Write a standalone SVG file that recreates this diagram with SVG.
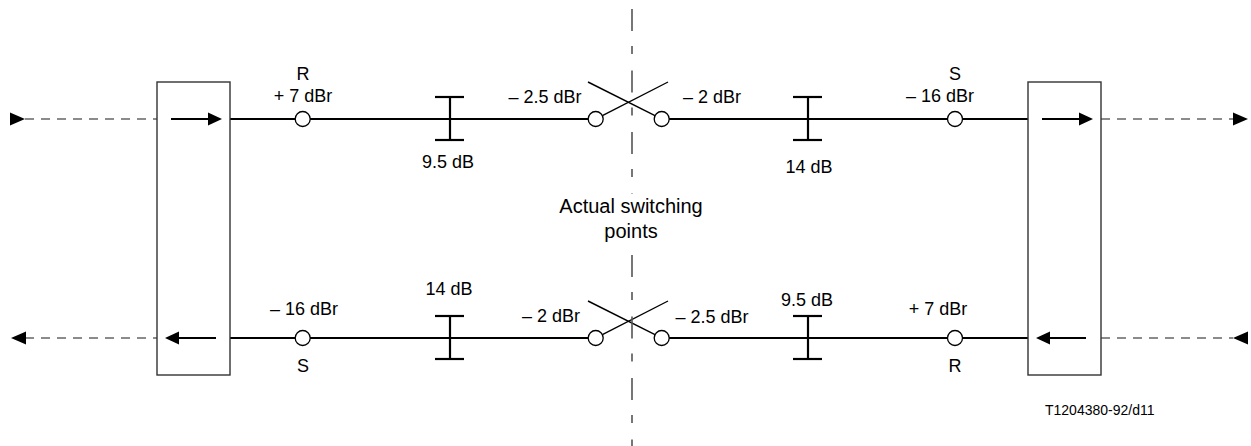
<svg xmlns="http://www.w3.org/2000/svg" width="1251" height="446" viewBox="0 0 1251 446">
<style>
text{font-family:"Liberation Sans",Arial,sans-serif;font-size:18px;fill:#000}
.m{text-anchor:middle}
.box{fill:#fff;stroke:#333;stroke-width:1.4}
.wire{stroke:#000;stroke-width:2;fill:none}
.dash{stroke:#666;stroke-width:1.5;stroke-dasharray:9 7;fill:none}
.term{fill:#fff;stroke:#000;stroke-width:1.3}
.sw{stroke:#000;stroke-width:1.4;fill:none}
.pad{stroke:#000;stroke-width:2.2;fill:none}
.axis{stroke:#555;stroke-width:1.6;fill:none;stroke-dasharray:22 15 8 16.5}
.ah{fill:#000}
</style>
<g id="connectors">
<line class="dash" x1="25" y1="119" x2="157" y2="119"/>
<line class="dash" x1="1101" y1="119" x2="1233" y2="119"/>
<line class="dash" x1="25" y1="338" x2="157" y2="338"/>
<line class="dash" x1="1101" y1="338" x2="1233" y2="338"/>
<polygon class="ah" points="10,112.5 25,119 10,125.5"/>
<polygon class="ah" points="1233,112.5 1248,119 1233,125.5"/>
<polygon class="ah" points="26,331.5 11,338 26,344.5"/>
<polygon class="ah" points="1248,331.5 1233,338 1248,344.5"/>
<line class="wire" x1="230" y1="119" x2="588" y2="119"/>
<line class="wire" x1="669" y1="119" x2="1028" y2="119"/>
<line class="wire" x1="230" y1="338" x2="588" y2="338"/>
<line class="wire" x1="669" y1="338" x2="1028" y2="338"/>
<line class="sw" x1="588" y1="82" x2="655" y2="115.6"/>
<line class="sw" x1="668" y1="82" x2="602.4" y2="115.6"/>
<line class="sw" x1="588" y1="301" x2="655" y2="334.6"/>
<line class="sw" x1="668" y1="301" x2="602.4" y2="334.6"/>
<line class="axis" x1="632" y1="9" x2="632" y2="194"/>
<line class="axis" x1="632" y1="255" x2="632" y2="446"/>
</g>
<g id="box-left">
<rect class="box" x="157" y="82" width="73" height="293"/>
<line class="wire" x1="171" y1="119" x2="210" y2="119"/>
<polygon class="ah" points="208,112.5 222,119 208,125.5"/>
<line class="wire" x1="177" y1="338" x2="216" y2="338"/>
<polygon class="ah" points="179,331.5 165,338 179,344.5"/>
</g>
<g id="box-right">
<rect class="box" x="1028" y="82" width="73" height="293"/>
<line class="wire" x1="1042" y1="119" x2="1081" y2="119"/>
<polygon class="ah" points="1079,112.5 1093,119 1079,125.5"/>
<line class="wire" x1="1048" y1="338" x2="1086" y2="338"/>
<polygon class="ah" points="1050,331.5 1036,338 1050,344.5"/>
</g>
<g id="point-R-top">
<circle class="term" cx="302.7" cy="119" r="7.5"/>
<text class="m" x="303" y="80">R</text>
<text class="m" x="303" y="102">+ 7 dBr</text>
</g>
<g id="pad-top-1">
<line class="pad" x1="450" y1="97" x2="450" y2="140"/>
<line class="pad" x1="435" y1="97" x2="464" y2="97"/>
<line class="pad" x1="435" y1="140" x2="464" y2="140"/>
<text class="m" x="448" y="168">9.5 dB</text>
</g>
<g id="switch-top">
<circle class="term" cx="595.7" cy="119" r="7.5"/>
<circle class="term" cx="661.7" cy="119" r="7.5"/>
<text class="m" x="545" y="103">– 2.5 dBr</text>
<text class="m" x="712" y="103">– 2 dBr</text>
</g>
<g id="pad-top-2">
<line class="pad" x1="808" y1="97" x2="808" y2="140"/>
<line class="pad" x1="793" y1="97" x2="822" y2="97"/>
<line class="pad" x1="793" y1="140" x2="822" y2="140"/>
<text class="m" x="809" y="173">14 dB</text>
</g>
<g id="point-S-top">
<circle class="term" cx="955" cy="119" r="7.5"/>
<text class="m" x="955" y="80">S</text>
<text class="m" x="940" y="102">– 16 dBr</text>
</g>
<g id="point-S-bottom">
<circle class="term" cx="302.7" cy="338" r="7.5"/>
<text class="m" x="304" y="315">– 16 dBr</text>
<text class="m" x="303" y="372">S</text>
</g>
<g id="pad-bottom-1">
<line class="pad" x1="450" y1="316" x2="450" y2="359"/>
<line class="pad" x1="435" y1="316" x2="464" y2="316"/>
<line class="pad" x1="435" y1="359" x2="464" y2="359"/>
<text class="m" x="449" y="295">14 dB</text>
</g>
<g id="switch-bottom">
<circle class="term" cx="595.7" cy="338" r="7.5"/>
<circle class="term" cx="661.7" cy="338" r="7.5"/>
<text class="m" x="551" y="322">– 2 dBr</text>
<text class="m" x="712" y="323">– 2.5 dBr</text>
</g>
<g id="pad-bottom-2">
<line class="pad" x1="808" y1="316" x2="808" y2="359"/>
<line class="pad" x1="793" y1="316" x2="822" y2="316"/>
<line class="pad" x1="793" y1="359" x2="822" y2="359"/>
<text class="m" x="807" y="306">9.5 dB</text>
</g>
<g id="point-R-bottom">
<circle class="term" cx="955" cy="338" r="7.5"/>
<text class="m" x="938" y="315">+ 7 dBr</text>
<text class="m" x="955" y="372">R</text>
</g>
<g id="label-switching">
<text class="m" x="631" y="213" style="font-size:20px">Actual switching</text>
<text class="m" x="631" y="238" style="font-size:20px">points</text>
</g>
<text x="1045" y="415" style="font-size:14px">T1204380-92/d11</text>
</svg>
